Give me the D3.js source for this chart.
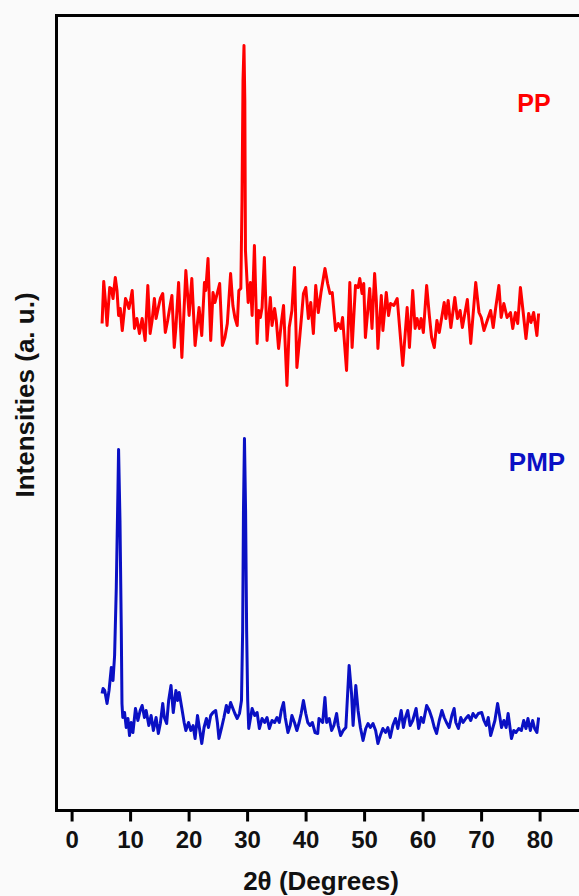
<!DOCTYPE html>
<html>
<head>
<meta charset="utf-8">
<script src="https://cdn.jsdelivr.net/npm/d3@7"></script>
<style>
  html, body { margin: 0; padding: 0; background: #fafafa; }
  svg { display: block; }
  text { font-family: "Liberation Sans", Arial, sans-serif; font-weight: bold; }
</style>
</head>
<body>
<svg id="chart" width="579" height="896"></svg>
<script>
// ---- Data (2θ in degrees, intensity in a.u., traces stacked) ----
const xTicks = [0, 10, 20, 30, 40, 50, 60, 70, 80];
const seriesNames = ["PP", "PMP"];
const seriesColors = ["#ff0000", "#0a10c4"];

const ppTheta = [
  5.21,5.49,5.77,6.06,6.51,6.79,7.08,7.47,7.76,8.03,
  8.32,8.66,9.22,9.51,9.80,10.07,10.36,10.75,11.16,11.60,
  12.06,12.57,13.03,13.42,13.76,14.15,14.44,14.83,15.17,15.58,
  16.02,16.42,16.70,17.15,17.55,17.83,18.29,18.85,19.53,20.09,
  20.55,21.11,21.79,22.25,22.71,22.93,23.32,23.78,24.17,24.51,
  25.31,25.77,26.21,26.62,27.18,27.57,27.91,28.31,28.59,28.93,
  29.13,29.30,29.47,29.61,29.72,30.01,30.18,30.57,30.86,31.25,
  31.71,31.98,32.27,32.56,32.95,33.41,33.97,34.26,34.70,34.99,
  35.38,35.84,36.23,36.81,37.20,37.66,38.10,38.51,38.90,39.35,
  39.63,40.03,40.48,40.88,41.33,41.73,42.17,42.63,43.31,43.77,
  44.16,44.55,45.13,45.57,46.03,46.32,47.00,47.56,47.95,48.53,
  48.97,49.26,49.65,49.94,50.22,50.96,51.35,51.80,52.09,52.36,
  52.94,53.21,53.79,54.18,54.52,55.08,55.66,56.61,57.36,57.75,
  58.31,58.72,59.06,59.45,59.74,60.13,60.69,61.15,61.54,62.00,
  62.45,62.85,63.69,63.98,64.37,64.83,65.51,65.95,66.41,66.80,
  67.65,68.23,69.08,69.64,70.03,70.49,71.05,71.63,72.07,72.48,
  73.04,73.43,73.89,74.44,75.02,75.41,75.87,76.26,76.72,77.16,
  77.67,78.13,78.52,78.98,79.54,79.83
];
const ppIntensity = [
  487,529,510,485,523,522,512,533,520,495,
  502,480,512,508,502,510,520,482,492,477,
  492,470,525,477,490,512,492,503,512,517,
  478,490,500,515,463,483,528,453,540,495,
  532,465,503,475,528,520,552,470,518,508,
  527,465,473,487,537,505,493,485,520,522,
  610,730,765,710,560,527,508,528,495,565,
  467,500,493,503,553,470,513,485,502,490,
  462,487,505,425,483,500,543,443,467,497,
  517,523,492,508,477,525,498,518,542,527,
  517,518,480,487,482,493,440,528,463,525,
  523,532,517,527,473,522,482,537,510,462,
  515,480,518,495,507,505,512,445,503,463,
  520,482,492,482,492,478,525,495,473,463,
  490,478,508,492,510,483,513,492,500,483,
  511,467,528,498,493,480,490,500,483,502,
  525,493,507,493,498,482,498,487,523,500,
  472,497,488,498,475,497
];

const pmpTheta = [
  5.21,5.38,5.66,6.06,6.40,6.79,7.08,7.35,7.64,7.93,
  8.03,8.27,8.49,8.61,8.75,9.05,9.34,9.63,9.90,10.19,
  10.48,10.92,11.33,11.72,12.06,12.45,12.74,13.20,13.59,13.98,
  14.44,14.83,15.17,15.58,15.85,16.25,16.59,16.99,17.38,17.83,
  18.12,18.39,18.85,19.24,19.53,19.99,20.38,20.77,21.11,21.52,
  21.91,22.25,22.64,23.05,23.39,23.78,24.17,24.63,24.92,25.19,
  25.65,26.04,26.45,26.79,27.18,27.57,27.91,28.31,28.70,29.04,
  29.24,29.38,29.55,29.74,29.92,30.10,30.28,30.86,31.30,31.71,
  32.10,32.56,33.00,33.41,33.80,34.26,34.70,35.11,35.50,35.84,
  36.23,36.52,36.98,37.37,37.66,38.10,38.51,38.90,39.24,39.63,
  40.03,40.37,40.76,41.15,41.61,42.07,42.29,42.92,43.31,43.60,
  44.04,44.45,44.84,45.30,45.57,45.98,46.42,46.88,47.44,47.85,
  48.12,48.58,48.97,49.37,49.82,50.28,50.67,51.07,51.52,51.97,
  52.36,52.77,53.21,53.67,54.06,54.47,54.91,55.37,55.76,56.34,
  56.73,57.07,57.46,57.87,58.31,58.89,59.33,59.74,60.13,60.69,
  61.15,61.61,62.00,62.39,62.85,63.30,63.69,64.08,64.54,65.00,
  65.39,65.68,66.12,66.53,66.92,67.38,67.82,68.23,68.62,69.08,
  69.52,70.10,70.49,70.88,71.22,71.63,72.02,72.36,72.82,73.16,
  73.49,73.89,74.28,74.62,75.19,75.58,75.97,76.43,76.89,77.28,
  77.67,78.01,78.42,78.81,79.15,79.54,79.83
];
const pmpIntensity = [
  117,122,120,107,120,143,130,155,223,323,
  361,290,183,107,93,98,83,92,75,88,
  78,102,90,100,105,93,100,85,95,80,
  93,77,87,107,93,87,110,125,98,120,
  110,118,102,88,80,88,80,85,72,95,
  80,67,83,92,83,95,98,100,88,72,
  83,93,105,98,108,102,97,92,97,110,
  180,300,372,300,180,110,82,102,95,98,
  82,92,88,93,82,90,88,93,88,100,
  108,93,78,85,95,88,80,88,97,110,
  97,88,85,88,78,77,92,88,113,88,
  92,80,85,97,85,75,80,83,145,117,
  85,125,100,83,70,82,87,83,87,80,
  67,75,82,78,83,73,85,92,82,100,
  83,93,100,85,90,102,82,93,88,105,
  100,92,83,77,90,100,93,88,83,95,
  102,88,82,93,88,92,95,90,97,93,
  97,98,90,85,93,75,83,90,107,95,
  83,90,83,97,72,80,78,82,80,90,
  82,92,80,90,82,78,93
];

// ---- Layout ----
const svg = d3.select("#chart");
const frame = { left: 56.5, top: 15.5, right: 600, bottom: 810.5 };

const x = d3.scaleLinear().domain([0, 80]).range([71.6, 539.6]);
const y = d3.scaleLinear().domain([0, 795]).range([frame.bottom, frame.top]);

svg.append("rect").attr("width", 579).attr("height", 896).attr("fill", "#fafafa");

// frame
svg.append("rect")
  .attr("x", frame.left).attr("y", frame.top)
  .attr("width", frame.right - frame.left).attr("height", frame.bottom - frame.top)
  .attr("fill", "none").attr("stroke", "#000").attr("stroke-width", 3);

// x axis
const xAxis = d3.axisBottom(x).tickValues(xTicks).tickSize(10).tickPadding(9).tickSizeOuter(0);
const gx = svg.append("g").attr("transform", `translate(0,${frame.bottom + 1})`).call(xAxis);
gx.select(".domain").remove();
gx.selectAll(".tick line").attr("stroke", "#000").attr("stroke-width", 3);
gx.selectAll(".tick text")
  .attr("fill", "#111").attr("font-size", 24)
  .style("font-family", "'Liberation Sans', Arial, sans-serif").style("font-weight", "bold");

// traces
const line = d3.line().x(d => x(d[0])).y(d => y(d[1]));
const traces = [d3.zip(ppTheta, ppIntensity), d3.zip(pmpTheta, pmpIntensity)];
traces.forEach((pts, i) => {
  svg.append("path").datum(pts)
    .attr("d", line).attr("fill", "none")
    .attr("stroke", seriesColors[i]).attr("stroke-width", 3)
    .attr("stroke-linejoin", "round");
});

// series labels
svg.append("text").attr("x", 534).attr("y", 112).attr("text-anchor", "middle")
  .attr("font-size", 25).attr("fill", seriesColors[0]).text(seriesNames[0]);
svg.append("text").attr("x", 537).attr("y", 471).attr("text-anchor", "middle")
  .attr("font-size", 26).attr("fill", seriesColors[1]).text(seriesNames[1]);

// axis titles
svg.append("text").attr("x", 321).attr("y", 890).attr("text-anchor", "middle")
  .attr("font-size", 26).attr("fill", "#111").text("2θ (Degrees)");
svg.append("text").attr("transform", "translate(34,395) rotate(-90)")
  .attr("text-anchor", "middle").attr("font-size", 26).attr("fill", "#111")
  .text("Intensities (a. u.)");
</script>
</body>
</html>
